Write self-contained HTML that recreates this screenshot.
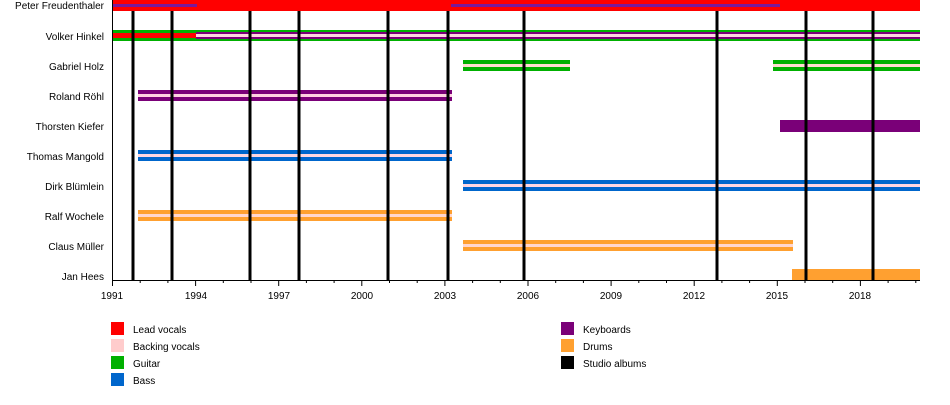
<!DOCTYPE html><html><head><style>body{margin:0;background:#fff}svg{font-family:"Liberation Sans",sans-serif}</style></head><body>
<svg width="950" height="400" xmlns="http://www.w3.org/2000/svg">
<g font-size="10" text-anchor="end" fill="#000">
<text x="104" y="9">Peter Freudenthaler</text><text x="104" y="40">Volker Hinkel</text><text x="104" y="70">Gabriel Holz</text><text x="104" y="100">Roland Röhl</text><text x="104" y="130">Thorsten Kiefer</text><text x="104" y="160">Thomas Mangold</text><text x="104" y="190">Dirk Blümlein</text><text x="104" y="220">Ralf Wochele</text><text x="104" y="250">Claus Müller</text><text x="104" y="280">Jan Hees</text>
</g>
<rect x="112" y="0" width="808" height="11" fill="#ff0000"/>
<rect x="112" y="4" width="85" height="3" fill="#7a1a9a"/><rect x="451" y="4" width="329" height="3" fill="#7a1a9a"/>
<rect x="112" y="30" width="808" height="11" fill="#00b000"/>
<rect x="196" y="32" width="724" height="7" fill="#7a0078"/><rect x="196" y="34" width="724" height="3" fill="#ffd6e0"/>
<rect x="112" y="33" width="84" height="5" fill="#ff0000"/>
<rect x="463" y="60" width="107" height="11" fill="#00b000"/><rect x="463" y="64" width="107" height="3" fill="#ffdcd0"/>
<rect x="773" y="60" width="147" height="11" fill="#00b000"/><rect x="773" y="64" width="147" height="3" fill="#ffdcd0"/>
<rect x="138" y="90" width="314" height="11" fill="#7a0078"/><rect x="138" y="94" width="314" height="3" fill="#ffd0e0"/>
<rect x="780" y="120" width="140" height="12" fill="#7a0078"/>
<rect x="138" y="150" width="314" height="11" fill="#0066cc"/><rect x="138" y="154" width="314" height="3" fill="#ffd6e0"/>
<rect x="463" y="180" width="457" height="11" fill="#0066cc"/><rect x="463" y="184" width="457" height="3" fill="#ffd6e0"/>
<rect x="138" y="210" width="314" height="11" fill="#ffa030"/><rect x="138" y="214" width="314" height="3" fill="#ffd6d0"/>
<rect x="463" y="240" width="330" height="11" fill="#ffa030"/><rect x="463" y="244" width="330" height="3" fill="#ffd6d0"/>
<rect x="792" y="269" width="128" height="11" fill="#ffa030"/>
<g stroke="#000" stroke-width="3">
<line x1="133" y1="11" x2="133" y2="280"/><line x1="172" y1="11" x2="172" y2="280"/><line x1="250" y1="11" x2="250" y2="280"/><line x1="299" y1="11" x2="299" y2="280"/><line x1="388" y1="11" x2="388" y2="280"/><line x1="448" y1="11" x2="448" y2="280"/><line x1="524" y1="11" x2="524" y2="280"/><line x1="717" y1="11" x2="717" y2="280"/><line x1="806" y1="11" x2="806" y2="280"/><line x1="873" y1="11" x2="873" y2="280"/>
</g>
<g stroke="#000" stroke-width="1">
<line x1="112.5" y1="0" x2="112.5" y2="280"/><line x1="112" y1="280.5" x2="920" y2="280.5"/>
<path d="M112.5 280v6M195.6 280v6M278.7 280v6M361.8 280v6M444.9 280v6M528 280v6M611.1 280v6M694.2 280v6M777.3 280v6M860.4 280v6"/>
<path d="M140.2 280v3M167.9 280v3M223.3 280v3M251 280v3M306.4 280v3M334.1 280v3M389.5 280v3M417.2 280v3M472.6 280v3M500.3 280v3M555.7 280v3M583.4 280v3M638.8 280v3M666.5 280v3M721.9 280v3M749.6 280v3M805 280v3M832.7 280v3M888.1 280v3M915.8 280v3"/>
</g>
<g font-size="10" text-anchor="middle">
<text x="112" y="299">1991</text><text x="196" y="299">1994</text><text x="279" y="299">1997</text><text x="362" y="299">2000</text><text x="445" y="299">2003</text><text x="528" y="299">2006</text><text x="611" y="299">2009</text><text x="694" y="299">2012</text><text x="777" y="299">2015</text><text x="860" y="299">2018</text>
</g>
<rect x="111" y="322" width="13" height="13" fill="#ff0000"/><rect x="111" y="339" width="13" height="13" fill="#ffcccc"/><rect x="111" y="356" width="13" height="13" fill="#00b000"/><rect x="111" y="373" width="13" height="13" fill="#0066cc"/>
<rect x="561" y="322" width="13" height="13" fill="#7a0078"/><rect x="561" y="339" width="13" height="13" fill="#ffa030"/><rect x="561" y="356" width="13" height="13" fill="#000"/>
<g font-size="10">
<text x="133" y="333">Lead vocals</text><text x="133" y="350">Backing vocals</text><text x="133" y="367">Guitar</text><text x="133" y="384">Bass</text>
<text x="583" y="333">Keyboards</text><text x="583" y="350">Drums</text><text x="583" y="367">Studio albums</text>
</g>
</svg></body></html>
